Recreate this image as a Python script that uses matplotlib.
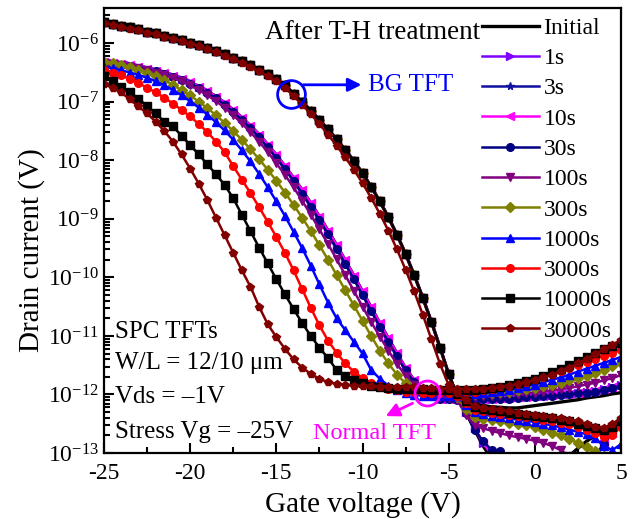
import numpy as np
import matplotlib
matplotlib.use('Agg')
import matplotlib.pyplot as plt
from matplotlib.ticker import FixedLocator, LogFormatterMathtext, MultipleLocator

plt.rcParams['font.family'] = ['Liberation Serif', 'DejaVu Serif']
plt.rcParams['mathtext.fontset'] = 'custom'
plt.rcParams['mathtext.rm'] = 'Liberation Serif'
plt.rcParams['axes.unicode_minus'] = False

# Barrido de tension de puerta (V), paso 0.5 V
vg = np.arange(-25, 5.01, 0.5)

# Leyenda / estilos
labels = ['Initial', '1s', '3s', '10s', '30s', '100s', '300s', '1000s', '3000s', '10000s', '30000s']
colors = ['black', '#8000FF', '#1010A0', '#FF00FF', '#000080', '#800080',
          '#808000', '#0000FF', '#FF0000', 'black', '#800000']
markers = ['', '>', '*', '<', 'o', 'v', 'D', '^', 'o', 's', 'p']

# log10(Id) - TFT normal (una lista por serie, -25..5 V)
n_init = [-6.32, -6.34, -6.36, -6.38, -6.41, -6.44, -6.47, -6.51, -6.56, -6.61,
          -6.67, -6.74, -6.82, -6.91, -7.02, -7.14, -7.27, -7.41, -7.56, -7.73,
          -7.91, -8.10, -8.30, -8.51, -8.73, -8.96, -9.20, -9.45, -9.71, -9.97,
          -10.24, -10.51, -10.78, -11.04, -11.30, -11.55, -11.76, -11.92, -12.02, -12.07,
          -12.08,
          -12.10, -12.13, -12.16, -12.19, -12.21, -12.22, -12.23, -12.23, -12.21, -12.19,
          -12.17, -12.15, -12.13, -12.11, -12.09, -12.06, -12.04, -12.02, -11.99, -11.97]
n_top = [-6.32, -6.34, -6.36, -6.38, -6.41, -6.44, -6.47, -6.51, -6.56, -6.61,
         -6.67, -6.74, -6.82, -6.91, -7.02, -7.14, -7.27, -7.41, -7.56, -7.73,
         -7.91, -8.10, -8.30, -8.51, -8.73, -8.96, -9.20, -9.45, -9.71, -9.97,
         -10.24, -10.51, -10.78, -11.04, -11.30, -11.55, -11.76, -11.92, -12.02, -12.07,
         -12.08,
         -12.08, -12.08, -12.08, -12.07, -12.07, -12.06, -12.06, -12.05, -12.04, -12.03,
         -12.02, -12.01, -12.00, -11.99, -11.97, -11.96, -11.94, -11.91, -11.88, -11.84]
n_top_b = [-6.33, -6.35, -6.37, -6.39, -6.42, -6.45, -6.48, -6.52, -6.57, -6.63,
           -6.69, -6.76, -6.85, -6.94, -7.05, -7.17, -7.31, -7.45, -7.61, -7.78,
           -7.96, -8.15, -8.35, -8.57, -8.79, -9.02, -9.26, -9.51, -9.77, -10.03,
           -10.30, -10.57, -10.84, -11.10, -11.35, -11.59, -11.79, -11.94, -12.03, -12.07,
           -12.08,
           -12.09, -12.09, -12.09, -12.08, -12.08, -12.07, -12.07, -12.06, -12.05, -12.04,
           -12.03, -12.02, -12.01, -12.00, -11.98, -11.97, -11.95, -11.92, -11.89, -11.85]
n_100s = [-6.33, -6.35, -6.37, -6.40, -6.43, -6.46, -6.50, -6.54, -6.59, -6.65,
          -6.72, -6.80, -6.89, -6.99, -7.10, -7.23, -7.37, -7.52, -7.68, -7.86,
          -8.05, -8.25, -8.46, -8.69, -8.93, -9.18, -9.43, -9.69, -9.96, -10.23,
          -10.50, -10.76, -11.01, -11.25, -11.48, -11.68, -11.84, -11.95, -12.02, -12.05,
          -12.06,
          -12.06, -12.05, -12.04, -12.03, -12.02, -12.01, -12.00, -11.99, -11.98, -11.97,
          -11.95, -11.93, -11.91, -11.89, -11.86, -11.83, -11.80, -11.76, -11.72, -11.67]
n_300s = [-6.32, -6.34, -6.37, -6.41, -6.45, -6.50, -6.56, -6.63, -6.71, -6.80,
          -6.89, -7.00, -7.11, -7.23, -7.36, -7.50, -7.65, -7.81, -7.98, -8.16,
          -8.35, -8.55, -8.76, -8.98, -9.21, -9.45, -9.70, -9.96, -10.22, -10.48,
          -10.74, -11.00, -11.25, -11.47, -11.66, -11.81, -11.91, -11.97, -12.00, -12.01,
          -12.01,
          -12.01, -12.00, -11.99, -11.98, -11.97, -11.96, -11.95, -11.93, -11.91, -11.89,
          -11.86, -11.83, -11.80, -11.76, -11.72, -11.68, -11.63, -11.58, -11.52, -11.46]
n_1000s = [-6.40, -6.43, -6.46, -6.50, -6.54, -6.59, -6.65, -6.72, -6.80, -6.89,
           -6.99, -7.10, -7.22, -7.35, -7.49, -7.65, -7.83, -8.02, -8.23, -8.46,
           -8.70, -8.95, -9.22, -9.50, -9.80, -10.12, -10.43, -10.70, -10.90, -11.10,
           -11.30, -11.58, -11.73, -11.85, -11.93, -11.98, -12.01, -12.02, -12.03, -12.03,
           -12.03,
           -12.02, -12.01, -12.00, -11.98, -11.96, -11.94, -11.92, -11.89, -11.86, -11.83,
           -11.79, -11.75, -11.71, -11.66, -11.61, -11.56, -11.51, -11.46, -11.41, -11.36]
n_3000s = [-6.45, -6.50, -6.55, -6.61, -6.68, -6.76, -6.84, -6.93, -7.03, -7.14,
           -7.25, -7.38, -7.52, -7.68, -7.86, -8.10, -8.33, -8.56, -8.80, -9.05,
           -9.31, -9.58, -9.88, -10.20, -10.52, -10.82, -11.08, -11.29, -11.47, -11.61,
           -11.72, -11.80, -11.86, -11.90, -11.93, -11.95, -11.96, -11.97, -11.97, -11.97,
           -11.97,
           -11.97, -11.96, -11.95, -11.93, -11.91, -11.88, -11.85, -11.82, -11.78, -11.74,
           -11.70, -11.65, -11.60, -11.55, -11.49, -11.44, -11.39, -11.34, -11.29, -11.24]
n_10000s = [-6.56, -6.65, -6.74, -6.84, -6.95, -7.07, -7.20, -7.34, -7.42, -7.58,
            -7.74, -7.90, -8.07, -8.24, -8.42, -8.65, -8.93, -9.21, -9.49, -9.76,
            -10.03, -10.29, -10.54, -10.78, -11.00, -11.20, -11.38, -11.58, -11.68, -11.76,
            -11.81, -11.85, -11.87, -11.89, -11.90, -11.91, -11.91, -11.91, -11.92, -11.92,
            -11.92,
            -11.93, -11.93, -11.92, -11.91, -11.89, -11.87, -11.84, -11.81, -11.77, -11.73,
            -11.68, -11.62, -11.56, -11.50, -11.43, -11.36, -11.29, -11.22, -11.17, -11.12]
n_30000s = [-6.70, -6.76, -6.84, -6.96, -7.08, -7.20, -7.34, -7.50, -7.68, -7.90,
            -8.14, -8.40, -8.68, -8.98, -9.28, -9.58, -9.88, -10.16, -10.50, -10.80,
            -11.02, -11.22, -11.40, -11.54, -11.65, -11.73, -11.79, -11.82, -11.84, -11.85,
            -11.86, -11.86, -11.87, -11.87, -11.87, -11.88, -11.88, -11.89, -11.89, -11.90,
            -11.90,
            -11.91, -11.91, -11.91, -11.90, -11.89, -11.87, -11.85, -11.82, -11.79, -11.75,
            -11.71, -11.66, -11.60, -11.54, -11.47, -11.39, -11.31, -11.23, -11.15, -11.07]

# log10(Id) - BG TFT, tramo comun -25..-5 V
bg_head = [-5.64, -5.67, -5.70, -5.73, -5.76, -5.80, -5.83, -5.87, -5.91, -5.95,
           -5.99, -6.03, -6.08, -6.13, -6.19, -6.25, -6.31, -6.38, -6.45, -6.53,
           -6.61, -6.72, -6.86, -7.00, -7.15, -7.31, -7.47, -7.64, -7.82, -8.01,
           -8.22, -8.45, -8.70, -8.97, -9.27, -9.60, -9.96, -10.35, -10.76, -11.20,
           -11.65]
bg_head_30000s = [-5.66, -5.69, -5.72, -5.75, -5.78, -5.82, -5.85, -5.89, -5.93, -5.97,
                  -6.01, -6.05, -6.10, -6.15, -6.21, -6.27, -6.33, -6.40, -6.48, -6.56,
                  -6.65, -6.76, -6.90, -7.05, -7.21, -7.38, -7.56, -7.75, -7.95, -8.16,
                  -8.39, -8.64, -8.91, -9.20, -9.52, -9.87, -10.24, -10.64, -11.06, -11.48,
                  -11.84]
# BG TFT, tramo final -4.5..5 V
bg_init = [-12.05, -12.30, -12.60, -12.88, -13.10, -13.30, -13.40, -13.45, -13.50, -13.50,
           -13.50, -13.45, -13.25, -13.05, -12.92, -12.80, -12.70, -12.62, -12.54, -12.47]
bg_dive = [-12.05, -12.30, -12.58, -12.83, -13.02, -13.20, -13.30, -13.40, -13.45, -13.50,
           -13.50, -13.50, -13.45, -13.40, -13.30, -13.20, -13.05, -12.85, -12.65, -12.48]
bg_30s = [-12.06, -12.32, -12.60, -12.80, -12.95, -12.97, -13.05, -13.20, -13.40, -13.50,
          -13.50, -13.50, -13.45, -13.40, -13.30, -13.20, -13.05, -12.85, -12.66, -12.50]
bg_100s = [-12.10, -12.35, -12.52, -12.58, -12.62, -12.66, -12.70, -12.73, -12.76, -12.79,
           -12.83, -12.88, -12.95, -13.05, -13.15, -13.25, -13.30, -13.30, -13.20, -13.10]
bg_300s = [-12.05, -12.25, -12.38, -12.42, -12.44, -12.46, -12.48, -12.50, -12.53, -12.56,
           -12.60, -12.65, -12.70, -12.76, -12.83, -12.90, -12.97, -13.05, -13.10, -13.10]
bg_1000s = [-12.03, -12.18, -12.30, -12.34, -12.37, -12.39, -12.41, -12.43, -12.45, -12.47,
            -12.50, -12.53, -12.56, -12.60, -12.64, -12.68, -12.75, -12.88, -12.95, -12.85]
bg_3000s = [-12.02, -12.15, -12.26, -12.29, -12.31, -12.33, -12.35, -12.37, -12.39, -12.41,
            -12.43, -12.45, -12.48, -12.51, -12.55, -12.60, -12.66, -12.72, -12.70, -12.55]
bg_10000s = [-12.00, -12.12, -12.22, -12.25, -12.27, -12.29, -12.31, -12.33, -12.35, -12.37,
             -12.39, -12.41, -12.43, -12.46, -12.50, -12.54, -12.58, -12.60, -12.55, -12.45]
bg_30000s = [-11.98, -12.10, -12.20, -12.23, -12.25, -12.27, -12.29, -12.31, -12.33, -12.35,
             -12.37, -12.39, -12.41, -12.43, -12.46, -12.50, -12.55, -12.57, -12.50, -12.40]

normal = [n_init, n_top, n_top_b, n_top, n_top_b, n_100s, n_300s, n_1000s, n_3000s, n_10000s, n_30000s]
bg = [bg_head + bg_init, bg_head + bg_dive, bg_head + bg_dive, bg_head + bg_dive, bg_head + bg_30s,
      bg_head + bg_100s, bg_head + bg_300s, bg_head + bg_1000s, bg_head + bg_3000s,
      bg_head + bg_10000s, bg_head_30000s + bg_30000s]

# Marcas del eje y (decadas visibles)
y_major = [1e-13, 1e-12, 1e-11, 1e-10, 1e-9, 1e-8, 1e-7, 1e-6]
y_minor = [m * d for d in y_major for m in range(2, 10) if m * d < 4e-6]

fig = plt.figure(figsize=(6.37, 5.19), dpi=100)
ax = fig.add_axes([104/637, 66/519, 517/637, 445/519])

for i in range(len(labels)):
    lw = 2.4 if i == 0 else 1.8
    ax.plot(vg, 10**np.array(normal[i]), color=colors[i], marker=markers[i], ms=5.5,
            lw=lw, label=labels[i])
    ax.plot(vg, 10**np.array(bg[i]), color=colors[i], marker=markers[i], ms=5.5, lw=lw)

ax.set_yscale('log')
ax.set_xlim(-25, 5)
ax.set_ylim(1e-13, 4e-6)
ax.xaxis.set_major_locator(MultipleLocator(5))
ax.xaxis.set_minor_locator(MultipleLocator(2.5))
ax.yaxis.set_major_locator(FixedLocator(y_major))
ax.yaxis.set_minor_locator(FixedLocator(y_minor))
ax.yaxis.set_major_formatter(LogFormatterMathtext())
ax.yaxis.set_minor_formatter(plt.NullFormatter())
ax.tick_params(which='both', direction='in', top=False, right=False, labelsize=17, width=1.5)
ax.tick_params(which='major', length=7)
ax.tick_params(which='minor', length=4)
ax.tick_params(axis='x', pad=7)
for s in ax.spines.values():
    s.set_linewidth(1.6)

ax.set_xlabel('Gate voltage (V)', fontsize=21)
ax.set_ylabel('Drain current (V)', fontsize=21)
ax.xaxis.set_label_coords(0.5, -0.085)
ax.yaxis.set_label_coords(-0.115, 0.456)

leg = ax.legend(loc='upper right', frameon=False, fontsize=17, handlelength=2.4,
                handletextpad=0.2, labelspacing=0.37, borderaxespad=0.25, borderpad=0.15)

ax.text(0.728, 0.945, 'After T-H treatment', transform=ax.transAxes, fontsize=19.5,
        ha='right', va='center')

# Textos de condiciones
ax.text(0.021, 0.272, 'SPC TFTs', transform=ax.transAxes, fontsize=18, va='center')
ax.text(0.021, 0.202, 'W/L = 12/10 μm', transform=ax.transAxes, fontsize=18, va='center')
ax.text(0.021, 0.126, 'Vds = –1V', transform=ax.transAxes, fontsize=18, va='center')
ax.text(0.021, 0.047, 'Stress Vg = –25V', transform=ax.transAxes, fontsize=18, va='center')

# Marcas BG TFT y Normal TFT
ax.plot([-14.15], [10**-6.87], 'o', ms=20, mfc='none', mec='blue', mew=2)
ax.annotate('', xy=(-9.9, 10**-6.71), xytext=(-13.6, 10**-6.71),
            arrowprops=dict(arrowstyle='-|>', color='blue', lw=2, mutation_scale=20))
ax.text(-9.7, 10**-6.71, 'BG TFT', color='blue', fontsize=18, va='center')

ax.plot([-6.26], [10**-11.97], 'o', ms=18, mfc='none', mec='#FF00FF', mew=2)
ax.annotate('', xy=(-8.8, 10**-12.39), xytext=(-6.95, 10**-12.13),
            arrowprops=dict(arrowstyle='-|>', color='#FF00FF', lw=2, mutation_scale=20))
ax.text(-9.33, 10**-12.66, 'Normal TFT', color='#FF00FF', fontsize=17.5, ha='center', va='center')

plt.savefig('out.png', dpi=100)
